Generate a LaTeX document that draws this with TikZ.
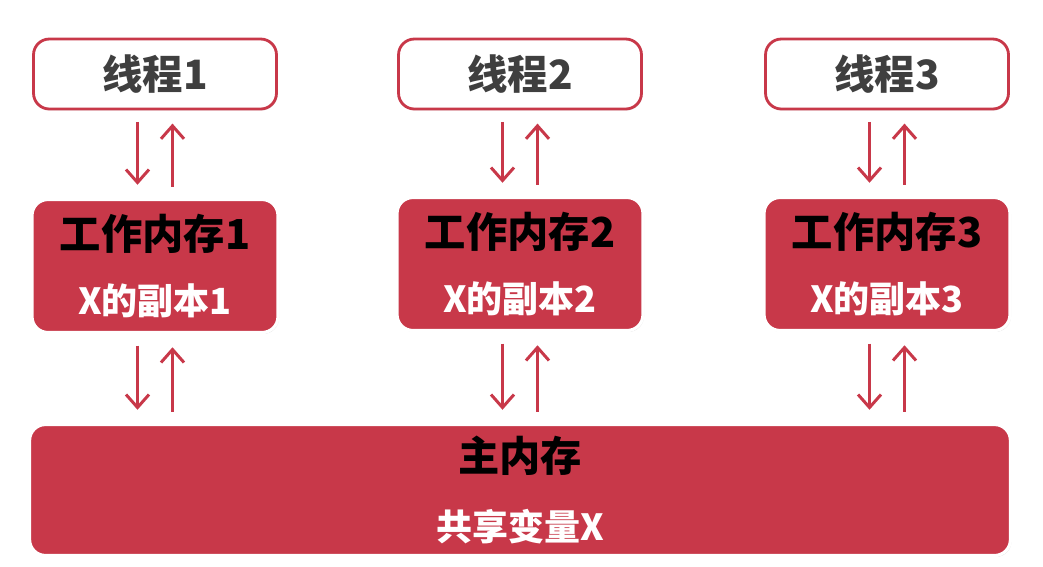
\documentclass[tikz,border=0pt]{standalone}
\usepackage{fontspec}
\setmainfont{Noto Sans CJK SC}
\usetikzlibrary{arrows.meta,shadows}
\definecolor{memfill}{HTML}{C83849}
\definecolor{memstroke}{HTML}{C83849}
\definecolor{threadtext}{HTML}{3F3F3F}
\newcommand\copyfont{\fontsize{20.5}{24}\selectfont}
\tikzset{
  thread/.style={
    rectangle, rounded corners=9pt, draw=memstroke, fill=white, line width=1.6pt,
    minimum width=4.86cm, minimum height=1.40cm, inner sep=1pt,
    font=\bfseries\fontsize{23}{26}\selectfont, text=threadtext,
    drop shadow={opacity=0.25,shadow xshift=0.6pt,shadow yshift=-0.8pt}
  },
  workmem/.style={
    rectangle, rounded corners=9pt, draw=white, fill=memfill, line width=1.8pt,
    minimum width=4.92cm, minimum height=2.66cm, align=center, inner sep=1pt,
    font=\bfseries\fontsize{23.5}{26}\selectfont,
    drop shadow={opacity=0.3,shadow xshift=0.6pt,shadow yshift=-0.8pt}
  },
  mainmem/.style={
    rectangle, rounded corners=9pt, draw=white, fill=memfill, line width=1.8pt,
    minimum width=19.62cm, minimum height=2.62cm, align=center, inner sep=1pt,
    font=\bfseries\fontsize{23.5}{26}\selectfont,
    drop shadow={opacity=0.3,shadow xshift=0.6pt,shadow yshift=-0.8pt}
  },
  flow/.style={
    -{Straight Barb[length=2.6mm,width=4.6mm,line width=1.7pt]}, draw=memstroke,
    line width=1.9pt, shorten <=6.5pt, shorten >=7.5pt
  }
}

\begin{document}
\begin{tikzpicture}[x=0.02cm,y=-0.02cm]
  \useasboundingbox (0,0) rectangle (1043,566);

  \node[thread] (t1) at (155,74) {线程1};
  \node[thread] (t2) at (520,74) {线程2};
  \node[thread] (t3) at (887,74) {线程3};

  \node[workmem] (w1) at (155,266) {\textcolor{black}{工作内存1}\\[0.40cm]{\copyfont\textcolor{white}{X的副本1}}};
  \node[workmem] (w2) at (520,264) {\textcolor{black}{工作内存2}\\[0.40cm]{\copyfont\textcolor{white}{X的副本2}}};
  \node[workmem] (w3) at (887,264) {\textcolor{black}{工作内存3}\\[0.40cm]{\copyfont\textcolor{white}{X的副本3}}};

  \node[mainmem] (main) at (520,490) {\textcolor{black}{主内存}\\[0.48cm]{\copyfont\textcolor{white}{共享变量X}}};

  % thread <-> working memory
  \foreach \n in {1,2,3}{
    \draw[flow] ([xshift=-0.35cm]t\n.south) -- ([xshift=-0.35cm]w\n.north);
    \draw[flow] ([xshift=0.35cm]w\n.north) -- ([xshift=0.35cm]t\n.south);
  }

  % working memory <-> main memory
  \foreach \n in {1,2,3}{
    \draw[flow] ([xshift=-0.35cm]w\n.south) -- ([xshift=-0.35cm]w\n.south |- main.north);
    \draw[flow] ([xshift=0.35cm]w\n.south |- main.north) -- ([xshift=0.35cm]w\n.south);
  }
\end{tikzpicture}
\end{document}
